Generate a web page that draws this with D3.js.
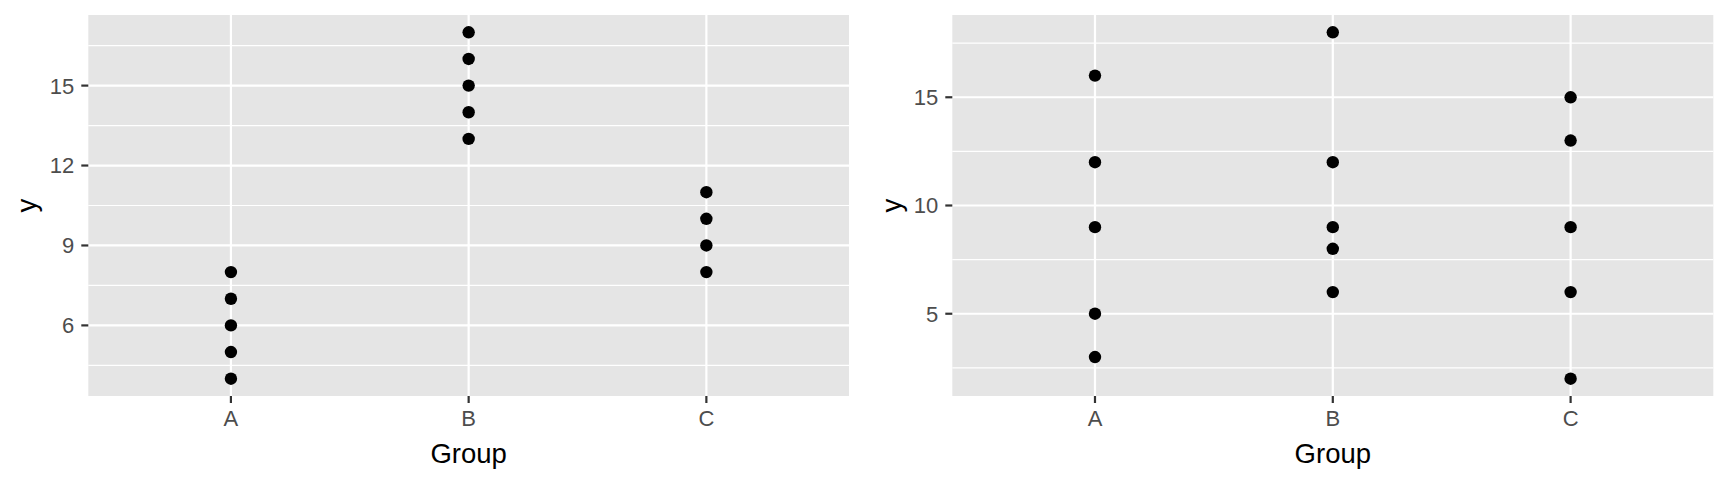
<!DOCTYPE html>
<html lang="en">
<head>
  <meta charset="utf-8" />
  <title>Group vs y - two panels</title>
  <script src="https://d3js.org/d3.v7.min.js"></script>
  <style>
    html, body {
      margin: 0;
      padding: 0;
      background: #fff;
      overflow: hidden;
      font-family: "Liberation Sans", Arial, sans-serif;
    }
    .tick-label { fill: #4d4d4d; font-size: 22px; }
    .axis-title { fill: #000; font-size: 27.5px; }
  </style>
</head>
<body>
<script>
// categories shared by both panels
const groups = ["A", "B", "C"];

// left panel values
const leftA = [4, 5, 6, 7, 8];
const leftB = [13, 14, 15, 16, 17];
const leftC = [8, 9, 10, 11];
const leftTicks = [6, 9, 12, 15];

// right panel values
const rightA = [3, 5, 9, 12, 16];
const rightB = [6, 8, 9, 12, 18];
const rightC = [2, 6, 9, 13, 15];
const rightTicks = [5, 10, 15];

const width = 1728, height = 480;

const svg = d3.select("body").append("svg")
  .attr("width", width)
  .attr("height", height);

/*
  Draw one ggplot-style panel.
  box = panel rectangle, yTitleX = baseline x of rotated "y" title
*/
function drawPanel(box, series, ticks, yTitleX) {
  const points = [];
  series.forEach((vals, i) => vals.forEach(v => points.push({ g: groups[i], y: v })));

  const x = d3.scalePoint()
    .domain(groups)
    .range([box.x0, box.x1])
    .padding(0.6);

  // ggplot adds 5% each side
  const ext = d3.extent(points, d => d.y);
  const pad = (ext[1] - ext[0]) * 0.05;
  const y = d3.scaleLinear()
    .domain([ext[0] - pad, ext[1] + pad])
    .range([box.y1, box.y0]);

  // minor breaks halfway between majors (and one step beyond)
  const step = ticks[1] - ticks[0];
  const minor = [];
  for (let t = ticks[0] - step / 2; t <= y.domain()[1]; t += step) {
    if (t >= y.domain()[0]) minor.push(t);
  }

  const g = svg.append("g");

  g.append("rect")
    .attr("x", box.x0).attr("y", box.y0)
    .attr("width", box.x1 - box.x0).attr("height", box.y1 - box.y0)
    .attr("fill", "#e5e5e5");

  g.selectAll(".minor").data(minor).enter().append("line")
    .attr("x1", box.x0).attr("x2", box.x1)
    .attr("y1", d => y(d)).attr("y2", d => y(d))
    .attr("stroke", "#fff").attr("stroke-width", 1.2);

  g.selectAll(".hmajor").data(ticks).enter().append("line")
    .attr("x1", box.x0).attr("x2", box.x1)
    .attr("y1", d => y(d)).attr("y2", d => y(d))
    .attr("stroke", "#fff").attr("stroke-width", 2.2);

  g.selectAll(".vmajor").data(groups).enter().append("line")
    .attr("x1", d => x(d)).attr("x2", d => x(d))
    .attr("y1", box.y0).attr("y2", box.y1)
    .attr("stroke", "#fff").attr("stroke-width", 2.2);

  // axis ticks (grey20)
  g.selectAll(".ytick").data(ticks).enter().append("line")
    .attr("x1", box.x0 - 7).attr("x2", box.x0)
    .attr("y1", d => y(d)).attr("y2", d => y(d))
    .attr("stroke", "#333").attr("stroke-width", 2.2);

  g.selectAll(".xtick").data(groups).enter().append("line")
    .attr("x1", d => x(d)).attr("x2", d => x(d))
    .attr("y1", box.y1).attr("y2", box.y1 + 7)
    .attr("stroke", "#333").attr("stroke-width", 2.2);

  // tick labels
  g.selectAll(".ylab").data(ticks).enter().append("text")
    .attr("class", "tick-label")
    .attr("x", box.x0 - 14)
    .attr("y", d => y(d))
    .attr("dy", "0.36em")
    .attr("text-anchor", "end")
    .text(d => d);

  g.selectAll(".xlab").data(groups).enter().append("text")
    .attr("class", "tick-label")
    .attr("x", d => x(d))
    .attr("y", box.y1 + 30)
    .attr("text-anchor", "middle")
    .text(d => d);

  // axis titles
  g.append("text")
    .attr("class", "axis-title")
    .attr("x", (box.x0 + box.x1) / 2)
    .attr("y", box.y1 + 67)
    .attr("text-anchor", "middle")
    .text("Group");

  g.append("text")
    .attr("class", "axis-title")
    .attr("transform", `translate(${yTitleX},${(box.y0 + box.y1) / 2}) rotate(-90)`)
    .attr("text-anchor", "middle")
    .text("y");

  // points
  g.selectAll(".pt").data(points).enter().append("circle")
    .attr("cx", d => x(d.g))
    .attr("cy", d => y(d.y))
    .attr("r", 6.2)
    .attr("fill", "#000");
}

drawPanel({ x0: 88.3, x1: 849, y0: 15, y1: 396 }, [leftA, leftB, leftC], leftTicks, 36);
drawPanel({ x0: 952.3, x1: 1713.3, y0: 15, y1: 396 }, [rightA, rightB, rightC], rightTicks, 901);
</script>
</body>
</html>
